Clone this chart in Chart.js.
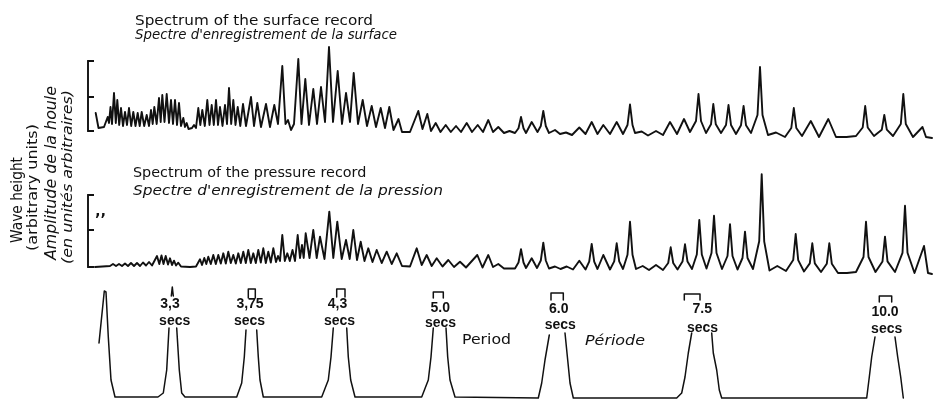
<!DOCTYPE html>
<html><head><meta charset="utf-8">
<script src="https://cdn.jsdelivr.net/npm/chart.js@4.4.1/dist/chart.umd.min.js"></script>
<style>
html,body{margin:0;padding:0;background:#fff;}
#wrap{position:relative;width:939px;height:400px;overflow:hidden;background:#fff;}
#c{position:absolute;left:0;top:0;}
#wrap span{position:absolute;white-space:nowrap;color:#111;transform-origin:0 0;font-family:"DejaVu Sans",sans-serif;}
</style></head><body>
<div id="wrap"><canvas id="c" width="939" height="400"></canvas></div>
<script>
// ---- Spectrum of the surface record (position along record, height in arbitrary units) ----
const surfX = [95.7,98.5,104,107.7,109,110.5,112,114,115.8,117.3,119.2,121,123,125,127,129,131.2,133.3,135.5,137.7,139.7,141.7,144.2,146.7,149,151,152.7,154.3,156.7,159,160.7,162.3,164.5,166.7,169,171,173,175,177,179,181,183.3,185,186.7,188.5,192,194,196,198.3,200.3,202.3,204.8,207.3,209.5,211.7,213.8,216,218,220,222.5,225,227,229,231.2,233.3,235.5,237.7,240.3,243,246,251,254,257.3,261,266,270,274.3,278,282.3,285.5,288,291,294,298.3,301.5,305.3,309,313.3,317,321,325,329,333,337.7,342,346,350,353.7,358,362.7,367,371.7,376,380.7,385,389.3,393.5,398.5,402,410,418.3,422.5,427.3,431,435.7,440.5,445.7,450.8,456,461,466.7,472,477.7,483,488.3,493,498.3,504,509.5,515,518.5,521,523.5,526,531.7,537.5,540.8,543.3,545.8,549,555,560,566,572,579.3,585.5,591.7,597.5,603.3,610,616.7,623,627.5,630,632.5,635,641.7,648,656,663,670,677,684,690,696,698.5,701,706,711,713.3,715.8,721,726,728.5,731,736,741,743.6,746,751,757.5,760,762.5,768,776,785,791.3,793.8,796.3,802,810.8,819,828.3,836,846.5,856,862.7,865.2,867.7,874,881.8,884.3,886.8,893,900.8,903.3,905.8,913,922.5,926,932];
const surfH = [18,3,4,14,8,24,7,38,8,31,6,23,5,19,6,23,5,19,5,18,5,19,5,16,5,21,7,24,7,33,9,36,9,37,8,31,7,31,6,28,5,13,4,8,2,3,6,3,23,6,21,5,31,6,26,6,31,6,24,5,26,7,43,7,31,6,24,5,27,5,34,5,28,4,27,4,26,7,65,7,11,1,7,72,7,52,6,42,7,44,9,84,9,60,7,38,9,58,7,31,5,25,4,23,3,24,1,12,-1,-1,20,2,17,0,8,-1,6,-1,5,-1,8,-1,6,-1,11,-1,4,-2,0,-2,2.8,14,2.8,-2,9,-1,5,20,5,-2,1,-3,-1.5,-4,3.5,-3,9,-3,6,-3,9,-3,6,26.5,6,-2,-0.5,-4.5,0,-4,9,-3,12,-1,10,37,10,-2,6.7,27,6.7,-2,6,26,6,-3,5.8,25,5.8,-2,16,64,16,-4,-1.5,-6,3,23,3,-5,10,-6,12,-6,-6,-5,3.5,25,3.5,-5,1.3,16,1.3,-5,7,37,7,-6,4,-6,-7];

// ---- Spectrum of the pressure record ----
const presX = [95,110,113,116,119,122,125,128,131,134,137,140,143,146,149,152,157,159.3,161.5,163.5,165.7,168,170,172,174,176,178.3,181,190,196,200,202,204.3,206.3,208.3,210.8,213.3,215.8,218.3,220.8,223.3,225.8,228.3,230.8,233.3,235.8,238.3,240.8,243.3,245.8,248.3,250.8,253.3,255.8,258.3,260.8,263.3,265.8,268.3,270.8,273.3,276,278,280,282.3,284.8,287.3,289.8,292.5,295,297.7,300,302,303.7,305.7,309.5,313.3,316.7,320,324.5,329.3,333.3,337.3,341.7,346,349.7,353.3,357,360.7,364.5,368.3,372.5,376.7,381.7,386.7,391.7,396.7,402,410,416.7,421.7,426.7,431.7,436.7,442.5,448.3,454,460,466,477.3,482.5,488.3,493,498.3,504,515,518.5,521,523.5,526,531.7,537,540.8,543.3,545.8,549,555,560.5,566.7,573,579.3,585.5,589.2,591.7,594.2,597.5,603.3,610,614.2,616.7,619.2,623,627.5,630,632.5,636,642.7,649,656,663,668.2,670.7,673.2,677.5,682.5,685,687.5,692,696.8,699.3,701.8,706.5,711.5,714,716.5,722,727.5,730,732.5,737.5,742.5,745,747.5,753,759.2,761.7,764.2,769.5,777.3,786,793.2,795.7,798.2,804,809.8,812.3,814.8,821,826.8,829.3,831.8,838,847,856,863.5,866,868.5,875.5,882.5,885,887.5,895,902.5,905,907.5,914.5,924,928,932];
const presH = [0,1,3,1,3,1,3.5,1,4,1,4,1,4.5,1.5,5,1.5,11,3,11.5,3,11,2.5,8.7,2,6.3,1.5,4.3,0.5,0,0.5,7.7,2,9,3,10.3,3,12,3,12,3.5,13.7,3.5,15.3,4,12,3.5,13.7,4,15.3,4,17,4,13.7,4,17,4.5,18.7,4,15.3,4.5,18.7,5,11,6,32,6,13.7,6,17,6,32,9,22,9,33.7,9,37,9,30.3,8,55.3,9,45.3,8,27,8,37,7,25.3,6,18.7,5,17,4,15.3,3,13.7,1,0.5,18.7,2,12,1,8.7,0.5,7,0,5.3,-0.5,12,-0.5,12,0,3,-1.5,-1.5,4.5,17.7,4.5,-1,8.7,-1,6.5,24.3,6.5,-1.5,0.5,-2,0.5,-2.5,6.3,-2.5,5.4,23,5.4,-2,12,-2.5,5.6,23.7,5.6,-2,12.2,45.3,12.2,-2,1,-3,2,-3,4,19.7,4,-2.5,5.4,22.7,5.4,-2,12.5,47,12.5,-1.5,14,51.3,14,-2,11,42.7,11,-2.5,9,35.3,9,-2,25.7,92.7,25.7,-3.5,1,-4,6.9,33,6.9,-4.5,3.6,23.7,3.6,-5,3.3,23.7,3.3,-6,-6,-5,10,45.3,10,-5,5.6,30.3,5.6,-5,14.2,61.3,14.2,-6,21,-6,-7];

// ---- Filter response curves for the period bands (null = curve interrupted by a label) ----
const filtX = [99,104.3,106,108.3,111,115,158,163.3,166.7,169,170,
  171.3,172.3,173.3,175,
  176.7,179.3,181.7,185,236.7,241.7,244.3,246,247,
  248.3,248.3,255.3,255.3,256,
  256.7,258.3,260,263.3,321.7,328.3,331,333.3,335,
  336.7,336.7,345,345,346,
  346.7,348.3,350.7,355,421.7,428.3,431,433.3,433.3,
  433.3,433.3,443.3,443.3,445,
  446,447.7,450,455,538.3,541.7,545,549.3,550,
  551,551,563.3,563.3,564,
  565,567.7,570,573.3,676.7,681.7,685,688.3,691.7,690,
  684.3,684.3,700,700,705,
  711.7,713.3,716.7,719.3,721.7,866.7,869.3,871.7,875,877,
  879.3,879.3,891.7,891.7,893,
  895,897.7,900.7,903.3];
const filtH = [54,106,105,60,17,0,0,4,27,69,null,
  101,110,101,null,
  69,27,4,0,0,14,40,67,null,
  99,108,108,99,null,
  67,40,17,0,0,17,40,69,null,
  100,108,108,100,null,
  69,40,17,0,0,17,40,69,null,
  99,105,105,99,null,
  69,40,17,0,-1,14,37,62,null,
  97,104,104,97,null,
  64,37,14,-1,-1,4,20,44,64,null,
  97,103,103,97,null,
  64,44,27,7,-1,-1,20,40,60,null,
  95,101,101,95,null,
  60,40,20,-1];

const bracketX = 88;
const surfTicks = [0, 34, 70];
const presTicks = [0, 37, 72];

// period band labels: [number, centre of number, baseline of number, centre of "secs", baseline of "secs"]
const periodLabels = [
  ["3,3", 170, 308, 174.7, 325],
  ["3,75", 250, 307.7, 249.5, 325],
  ["4,3", 337.5, 308.3, 339.5, 325.5],
  ["5.0", 440.3, 311.7, 440.5, 327.3],
  ["6.0", 558.8, 312.7, 560.3, 329.3],
  ["7.5", 702.2, 313.3, 702.5, 331.7],
  ["10.0", 885, 316, 886.7, 332.7]
];

const labels = [
  {t:"Spectrum of the surface record", x:135, y:25, w:238, f:"13.5px", s:"normal"},
  {t:"Spectre d'enregistrement de la surface", x:135, y:39, w:262, f:"13.5px", s:"italic"},
  {t:"Spectrum of the pressure record", x:133.3, y:177.7, w:233.4, f:"13.5px", s:"normal"},
  {t:"Spectre d'enregistrement de la pression", x:133, y:195, w:310, f:"14px", s:"italic"},
  {t:"Wave height", x:22.5, y:243, w:86, f:"15px", s:"normal", r:1},
  {t:"(arbitrary units)", x:36.7, y:251, w:127, f:"14px", s:"normal", r:1},
  {t:"Amplitude de la houle", x:56.5, y:260, w:174, f:"15px", s:"italic", r:1},
  {t:"(en unités arbitraires)", x:71.8, y:264, w:174, f:"14px", s:"italic", r:1},
  {t:"Period", x:461.7, y:344, w:49, f:"14px", s:"normal"},
  {t:"Période", x:585, y:345, w:60, f:"14px", s:"italic"},
  {t:"\u2019\u2019", x:95, y:226, w:11, f:"16px", s:"normal", b:1}
];
periodLabels.forEach(p => {
  labels.push({t:p[0], x:p[1], y:p[2], f:"14px", s:"normal", c:1});
  labels.push({t:"secs", x:p[3], y:p[4], f:"14px", s:"normal", c:1});
});

const toPts = (xs, hs) => xs.map((x, i) => ({x: x, y: hs[i]}));

const bracketPlugin = {
  id: 'brackets',
  afterDatasetsDraw(chart) {
    const ctx = chart.ctx, xs = chart.scales.x;
    [['ySurf', surfTicks], ['yPres', presTicks]].forEach(([id, ticks]) => {
      const ys = chart.scales[id];
      const px = xs.getPixelForValue(bracketX);
      const top = ys.getPixelForValue(Math.max(...ticks));
      const bot = ys.getPixelForValue(Math.min(...ticks));
      ctx.save();
      ctx.strokeStyle = '#111';
      ctx.lineWidth = 1.9;
      ctx.beginPath();
      ctx.moveTo(px, top); ctx.lineTo(px, bot);
      ticks.forEach(t => { const p = ys.getPixelForValue(t); ctx.moveTo(px - 0.9, p); ctx.lineTo(px + 6, p); });
      ctx.stroke();
      ctx.restore();
    });
  }
};

const common = {borderColor:'#111', borderWidth:1.9, pointRadius:0, tension:0, fill:false, clip:false, spanGaps:false, borderJoinStyle:'round', borderCapStyle:'round'};

new Chart(document.getElementById('c'), {
  type: 'line',
  data: { datasets: [
    Object.assign({label:'Spectrum of the surface record', data: toPts(surfX, surfH), yAxisID:'ySurf'}, common),
    Object.assign({label:'Spectrum of the pressure record', data: toPts(presX, presH), yAxisID:'yPres'}, common),
    Object.assign({label:'Period', data: toPts(filtX, filtH), yAxisID:'yFilt', borderWidth:1.5}, Object.assign({}, common, {borderWidth:1.5}))
  ]},
  options: {
    responsive:false, animation:false, devicePixelRatio:1,
    layout:{padding:0},
    plugins:{legend:{display:false}, tooltip:{enabled:false}, title:{display:false}},
    scales:{
      x:{type:'linear', min:0, max:939, display:false},
      ySurf:{type:'linear', min:-269, max:131, display:false},
      yPres:{type:'linear', min:-133, max:267, display:false},
      yFilt:{type:'linear', min:-3, max:397, display:false}
    }
  },
  plugins:[bracketPlugin]
});

const wrap = document.getElementById('wrap');
labels.forEach(L => {
  const s = document.createElement('span');
  s.textContent = L.t;
  const size = parseFloat(L.f);
  s.style.fontSize = L.f;
  s.style.fontStyle = L.s;
  s.style.lineHeight = size + 'px';
  if (L.c) {
    s.style.fontFamily = '"Liberation Sans", Arial, sans-serif';
    s.style.fontWeight = '700';
  } else {
    s.style.fontWeight = L.b ? '600' : '400';
  }
  wrap.appendChild(s);
  const w = s.getBoundingClientRect().width;
  if (L.c) {
    const base = 0.905 * size; // Liberation Sans baseline within a 1em line box
    s.style.left = (L.x - w / 2) + 'px';
    s.style.top = (L.y - base + 0.5) + 'px';
    return;
  }
  const k = L.w / w;
  const base = 0.846 * size;
  if (L.r) {
    s.style.left = (L.x - base) + 'px';
    s.style.top = L.y + 'px';
    s.style.transform = 'rotate(-90deg) scaleX(' + k + ')';
  } else {
    s.style.left = L.x + 'px';
    s.style.top = (L.y - base) + 'px';
    s.style.transform = 'scaleX(' + k + ')';
  }
});
</script></body></html>
